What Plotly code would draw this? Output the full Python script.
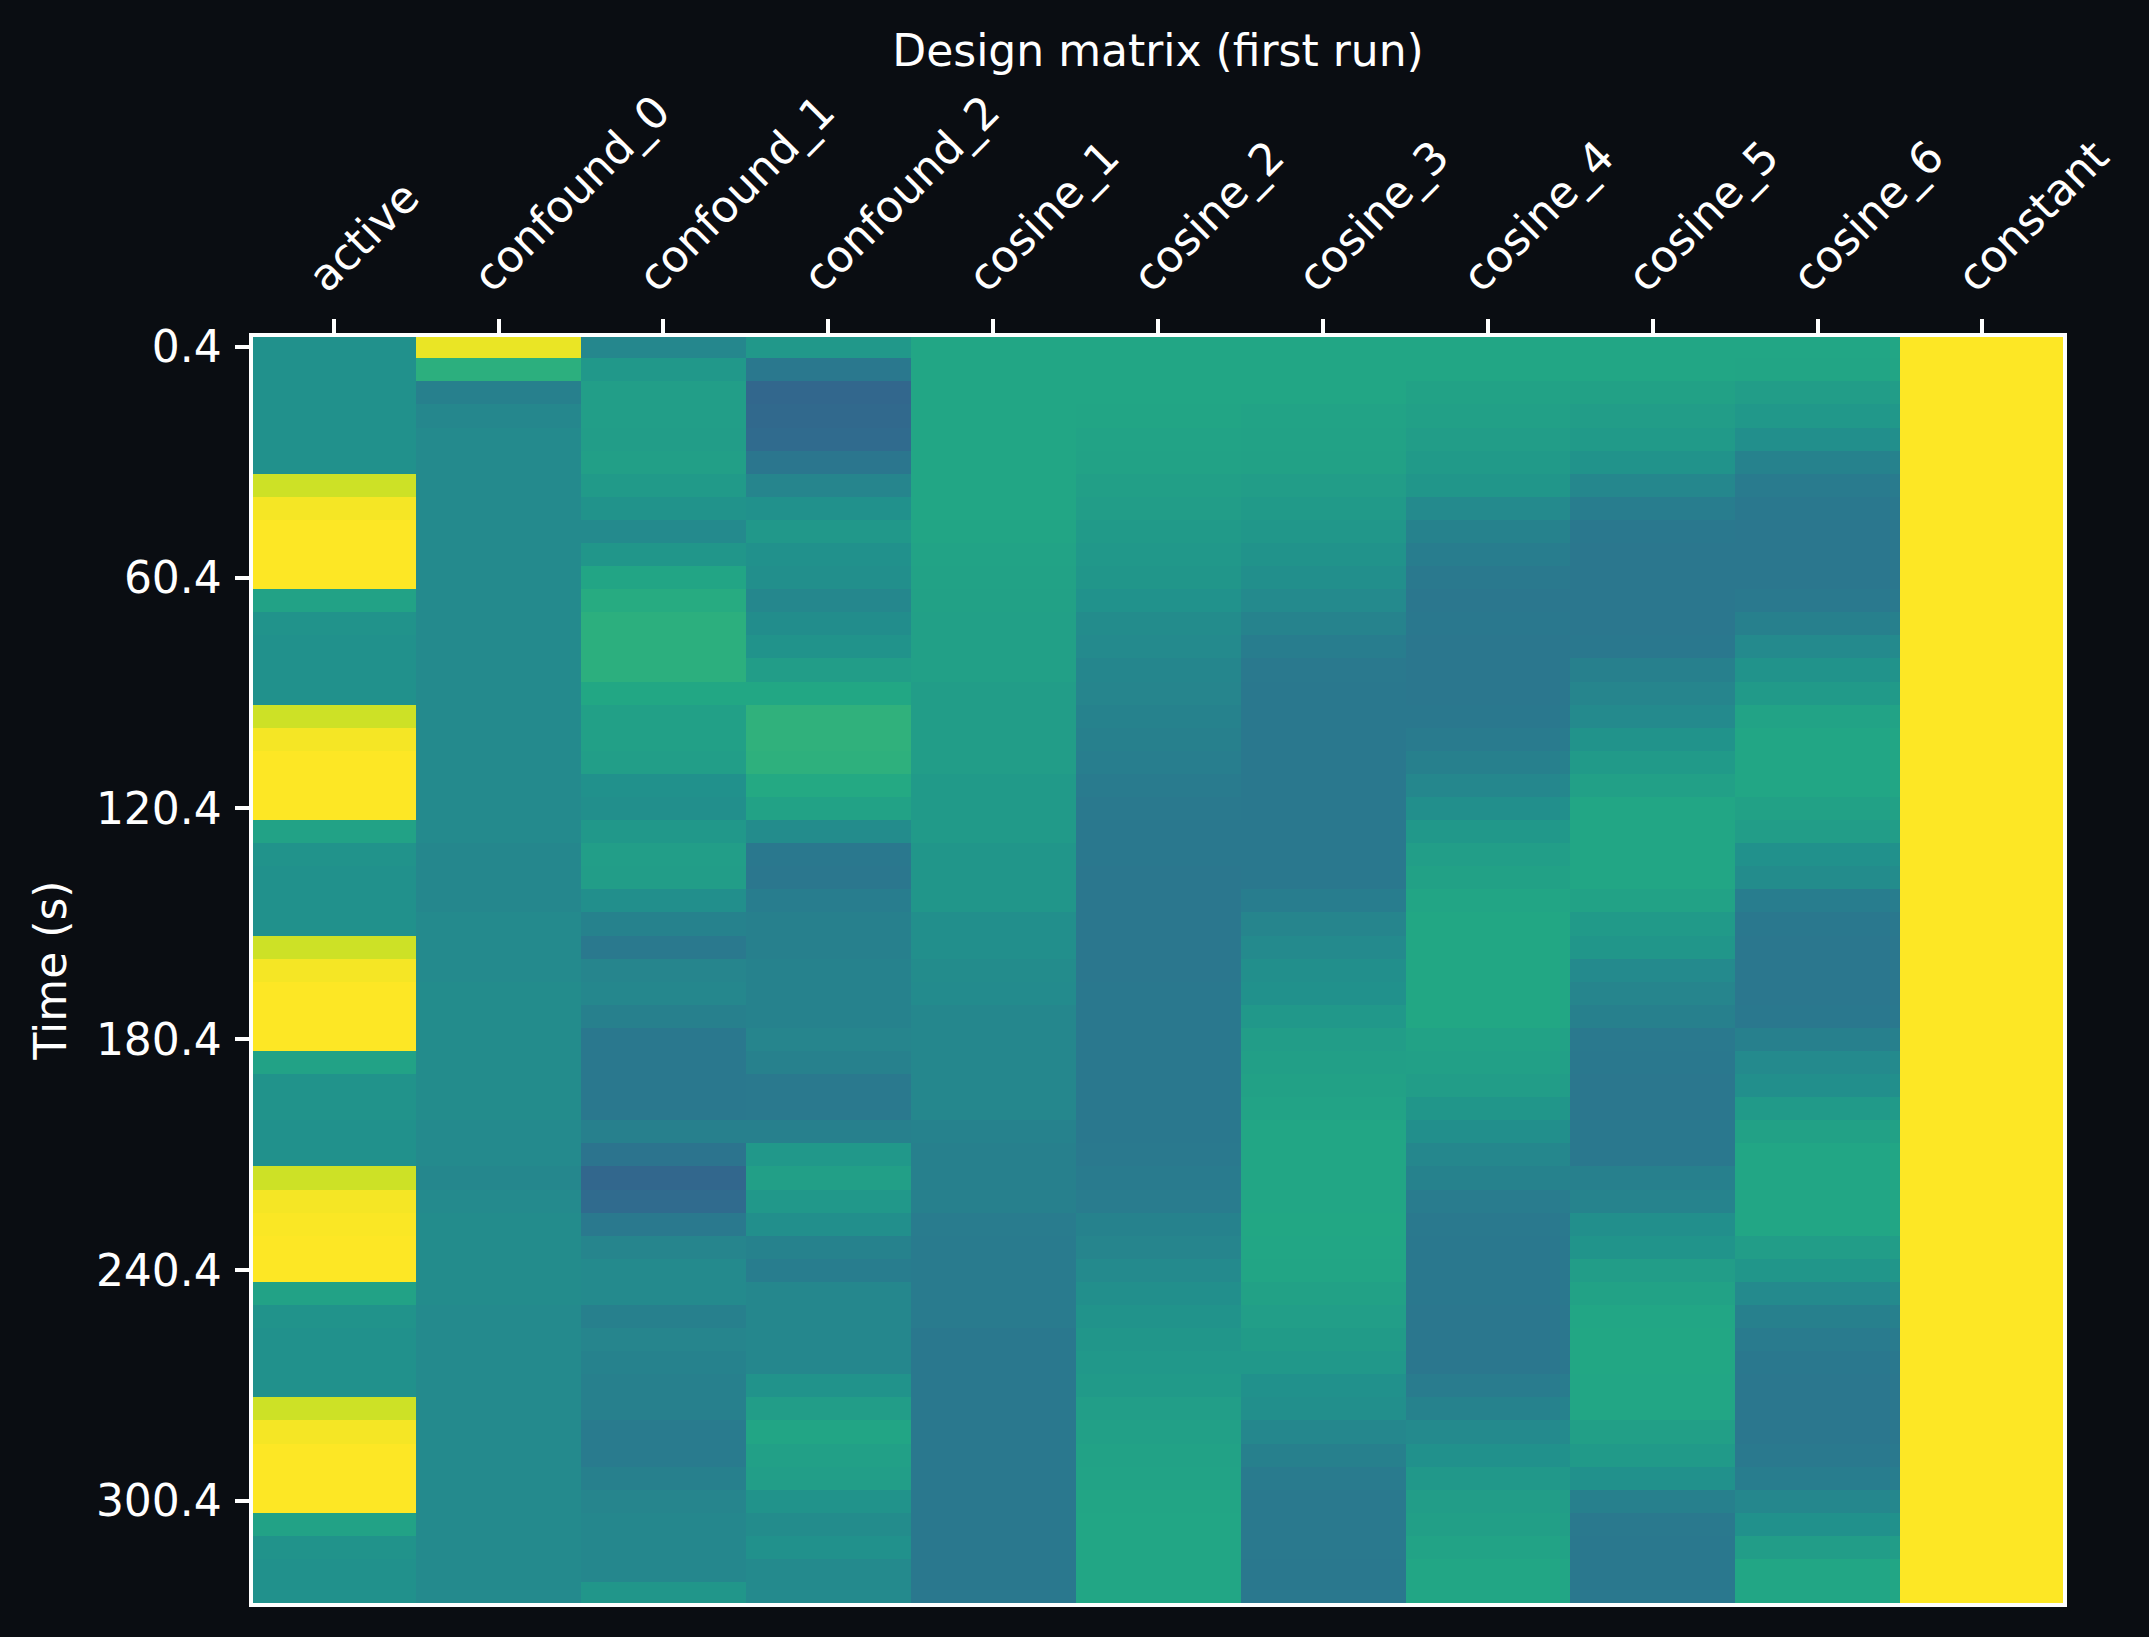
import plotly.graph_objects as go

columns = ["active", "confound_0", "confound_1", "confound_2", "cosine_1", "cosine_2",
           "cosine_3", "cosine_4", "cosine_5", "cosine_6", "constant"]
times = [0.4, 6.4, 12.4, 18.4, 24.4, 30.4, 36.4, 42.4, 48.4, 54.4, 60.4, 66.4, 72.4, 78.4,
         84.4, 90.4, 96.4, 102.4, 108.4, 114.4, 120.4, 126.4, 132.4, 138.4, 144.4, 150.4,
         156.4, 162.4, 168.4, 174.4, 180.4, 186.4, 192.4, 198.4, 204.4, 210.4, 216.4, 222.4,
         228.4, 234.4, 240.4, 246.4, 252.4, 258.4, 264.4, 270.4, 276.4, 282.4, 288.4, 294.4,
         300.4, 306.4, 312.4, 318.4, 324.4]
tick_vals = [0.4, 60.4, 120.4, 180.4, 240.4, 300.4]
tick_text = ["0.4", "60.4", "120.4", "180.4", "240.4", "300.4"]

active = [.50, .50, .50, .50, .50, .50, .925, .987, 1, 1,
          1, .575, .51, .50, .50, .50, .925, .987, 1, 1,
          1, .575, .51, .50, .50, .50, .925, .987, 1, 1,
          1, .575, .51, .51, .50, .50, .925, .987, .995, 1,
          1, .575, .51, .50, .50, .50, .925, .987, 1, 1,
          1, .575, .51, .50, .50]
confound_0 = [.97, .63, .43, .46, .47, .47, .47, .47, .47, .47,
              .47, .47, .47, .47, .47, .47, .47, .47, .47, .47,
              .47, .47, .46, .46, .46, .47, .47, .47, .48, .48,
              .48, .48, .48, .48, .47, .47, .46, .47, .48, .48,
              .48, .48, .47, .47, .47, .47, .47, .47, .47, .47,
              .47, .47, .47, .47, .47]
confound_1 = [.46, .53, .555, .555, .55, .56, .54, .51, .47, .52,
              .585, .615, .63, .63, .63, .595, .565, .565, .555, .50,
              .49, .53, .555, .55, .49, .44, .405, .45, .46, .43,
              .40, .40, .40, .40, .43, .385, .33, .35, .405, .45,
              .47, .47, .43, .45, .44, .43, .43, .41, .41, .43,
              .45, .46, .46, .46, .52]
confound_2 = [.53, .40, .33, .34, .35, .39, .45, .50, .53, .50,
              .49, .46, .485, .51, .55, .595, .64, .64, .635, .605,
              .575, .48, .40, .395, .42, .43, .43, .44, .44, .44,
              .45, .435, .405, .405, .43, .53, .56, .53, .49, .44,
              .42, .46, .46, .46, .46, .51, .55, .585, .565, .555,
              .51, .48, .50, .47, .47]
cosine_1 = [.59, .59, .59, .59, .59, .59, .59, .59, .585, .58,
            .575, .57, .565, .565, .565, .55, .55, .55, .55, .54,
            .54, .54, .52, .52, .52, .49, .49, .48, .475, .46,
            .46, .46, .46, .46, .44, .43, .43, .43, .415, .41,
            .41, .41, .41, .40, .40, .40, .40, .40, .40, .40,
            .40, .40, .40, .40, .40]
cosine_2 = [.59, .59, .59, .585, .58, .575, .56, .55, .54, .53,
            .52, .505, .48, .47, .455, .45, .44, .43, .425, .41,
            .405, .40, .40, .395, .395, .395, .395, .395, .40, .40,
            .40, .40, .40, .40, .40, .405, .41, .415, .44, .45,
            .47, .49, .51, .52, .53, .54, .555, .565, .575, .58,
            .585, .59, .59, .59, .59]
cosine_3 = [.59, .59, .59, .58, .575, .57, .55, .54, .525, .51,
            .49, .47, .445, .42, .405, .40, .40, .40, .40, .40,
            .40, .40, .40, .40, .42, .45, .47, .49, .50, .53,
            .55, .56, .57, .58, .59, .59, .59, .59, .595, .59,
            .585, .57, .555, .545, .53, .50, .49, .46, .43, .41,
            .405, .405, .405, .40, .40]
cosine_4 = [.59, .59, .575, .565, .55, .54, .52, .47, .44, .42,
            .405, .395, .40, .395, .395, .395, .40, .41, .43, .46,
            .49, .53, .555, .57, .585, .595, .595, .595, .595, .595,
            .575, .565, .55, .52, .49, .46, .44, .415, .405, .40,
            .40, .40, .395, .395, .395, .415, .44, .47, .50, .53,
            .55, .56, .58, .59, .59]
cosine_5 = [.59, .59, .57, .55, .54, .51, .46, .42, .40, .395,
            .395, .395, .395, .40, .43, .45, .47, .51, .54, .565,
            .59, .59, .59, .59, .575, .54, .52, .47, .45, .43,
            .405, .40, .395, .395, .40, .40, .43, .445, .49, .515,
            .55, .575, .59, .595, .595, .59, .59, .56, .54, .50,
            .43, .405, .40, .40, .40]
cosine_6 = [.59, .585, .55, .53, .49, .44, .41, .40, .395, .395,
            .395, .405, .43, .47, .51, .54, .58, .59, .59, .59,
            .57, .55, .50, .48, .42, .40, .395, .395, .395, .40,
            .43, .47, .49, .54, .57, .59, .59, .59, .59, .55,
            .52, .47, .43, .41, .40, .395, .395, .395, .405, .42,
            .46, .50, .55, .59, .59]
constant = [1] * 55

design = [active, confound_0, confound_1, confound_2, cosine_1, cosine_2,
          cosine_3, cosine_4, cosine_5, cosine_6, constant]
rows = [[col[i] for col in design] for i in range(len(times))]

viridis = [[0.0, "#440154"], [0.1, "#482475"], [0.2, "#414487"], [0.3, "#355f8d"],
           [0.4, "#2a788e"], [0.5, "#21918c"], [0.6, "#22a884"], [0.7, "#44bf70"],
           [0.8, "#7ad151"], [0.9, "#bddf26"], [1.0, "#fde725"]]

BG = "#0a0d12"
FG = "#ffffff"
W, H = 2149, 1637
FONT = "DejaVu Sans"
SIZE = 44

fig = go.Figure()
fig.add_trace(go.Heatmap(
    z=rows,
    x=columns,
    y=times,
    colorscale=viridis,
    zmin=0,
    zmax=1,
    showscale=False,
))

fig.update_layout(
    width=W,
    height=H,
    margin=dict(l=253, r=86, t=337, b=34),
    paper_bgcolor=BG,
    plot_bgcolor=BG,
    font=dict(family=FONT, size=SIZE, color=FG),
    title=dict(
        text="Design matrix (first run)",
        font=dict(family=FONT, size=SIZE, color=FG),
        x=0.5,
        xref="paper",
        xanchor="center",
        y=1 - 51 / H,
        yref="container",
        yanchor="middle",
    ),
    xaxis=dict(
        side="top",
        range=[-0.489, 10.489],
        tickangle=-45,
        tickmode="array",
        tickvals=columns,
        ticktext=columns,
        ticks="outside",
        ticklen=14.5,
        tickwidth=3.7,
        tickcolor=FG,
        ticklabelshift=-22,
        showline=True,
        linecolor=FG,
        linewidth=3.7,
        mirror=True,
        showgrid=False,
        zeroline=False,
    ),
    yaxis=dict(
        autorange=False,
        range=[326.92, -2.12],
        tickmode="array",
        tickvals=tick_vals,
        ticktext=tick_text,
        ticks="outside",
        ticklen=14.5,
        tickwidth=3.7,
        tickcolor=FG,
        ticklabelstandoff=4,
        showline=True,
        linecolor=FG,
        linewidth=3.7,
        mirror=True,
        showgrid=False,
        zeroline=False,
        title=dict(text="Time (s)", font=dict(family=FONT, size=SIZE, color=FG), standoff=16),
    ),
)

# page margin off so the figure fills the window
fig.write_html(
    "out.html",
    config=dict(displayModeBar=False),
    post_script="document.body.style.margin='0';document.body.style.background='%s';" % BG,
)
